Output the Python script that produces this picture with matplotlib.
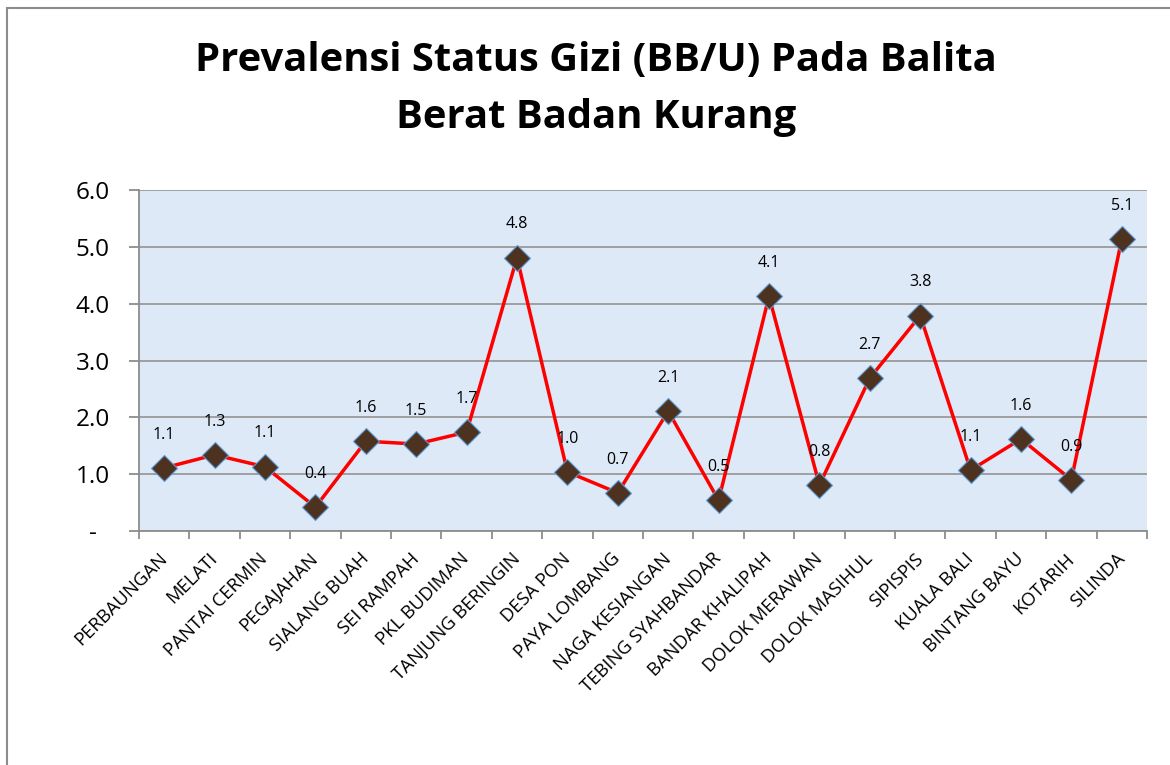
import numpy as np
import matplotlib.pyplot as plt
from matplotlib.patches import Rectangle
from matplotlib.ticker import FixedLocator

plt.rcParams['font.family'] = ['Open Sans', 'DejaVu Sans']

# DATA
kecamatan = [
    "PERBAUNGAN", "MELATI", "PANTAI CERMIN", "PEGAJAHAN", "SIALANG BUAH",
    "SEI RAMPAH", "PKL BUDIMAN", "TANJUNG BERINGIN", "DESA PON",
    "PAYA LOMBANG", "NAGA KESIANGAN", "TEBING SYAHBANDAR", "BANDAR KHALIPAH",
    "DOLOK MERAWAN", "DOLOK MASIHUL", "SIPISPIS", "KUALA BALI",
    "BINTANG BAYU", "KOTARIH", "SILINDA",
]
prevalensi = [
    1.11, 1.34, 1.13, 0.42, 1.58, 1.53, 1.74, 4.81, 1.04, 0.67,
    2.11, 0.54, 4.13, 0.81, 2.69, 3.79, 1.07, 1.62, 0.90, 5.14,
]
y_ticks = [0, 1, 2, 3, 4, 5, 6]
y_tick_labels = ["-  ", "1.0", "2.0", "3.0", "4.0", "5.0", "6.0"]

TITLE = "Prevalensi Status Gizi (BB/U) Pada Balita\nBerat Badan Kurang"

# FIGURE
fig = plt.figure(figsize=(11.7, 7.65), dpi=100)
fig.patch.set_facecolor("white")

# outer chart frame (Excel chart area border)
fig.patches.append(Rectangle(
    (7 / 1170, -0.1), 1.2, 1.1 - 8 / 765,
    transform=fig.transFigure, fill=False,
    edgecolor="#8c8c8c", linewidth=1.5, zorder=0
))

ax = fig.add_axes([139 / 1170, 1 - 531 / 765, 1008 / 1170, 341 / 765])
ax.set_facecolor("#dde9f7")

x = np.arange(len(kecamatan))
ax.plot(x, prevalensi, color="#ff0000", linewidth=2.5, zorder=3,
        marker="D", markersize=13, markerfacecolor="#4e3220",
        markeredgecolor="#5b9bd5", markeredgewidth=0.8)

# data labels above each point
for xi, v in zip(x, prevalensi):
    ax.annotate(f"{v:.1f}", (xi, v), xytext=(0, 24),
                textcoords="offset points", ha="center", va="center",
                fontsize=11.5, color="black", zorder=4)

ax.set_xlim(-0.5, len(kecamatan) - 0.5)
ax.set_ylim(0, 6)

ax.set_yticks(y_ticks)
ax.set_yticklabels(y_tick_labels, fontsize=17.5)
ax.yaxis.grid(True, color="#9a9a9a", linewidth=1.3)
ax.set_axisbelow(True)

ax.set_xticks(x)
ax.set_xticklabels(kecamatan, rotation=45, ha="right", va="center",
                   rotation_mode="anchor", fontsize=13.3)
ax.xaxis.set_minor_locator(FixedLocator(np.arange(-0.5, len(kecamatan), 1)))
ax.tick_params(axis="x", which="major", length=0, pad=18)
ax.tick_params(axis="x", which="minor", length=6, color="#8c8c8c", width=1.3)
ax.tick_params(axis="y", length=7, color="#8c8c8c", width=1.3, pad=14)

for side in ["top", "right"]:
    ax.spines[side].set_visible(False)
for side in ["left", "bottom"]:
    ax.spines[side].set_color("#8c8c8c")
    ax.spines[side].set_linewidth(1.3)

fig.text(596 / 1170, 1 - 89 / 765, TITLE, ha="center", va="center",
         fontsize=28.8, fontweight="bold", linespacing=1.6)

fig.savefig("out.png", dpi=100)
